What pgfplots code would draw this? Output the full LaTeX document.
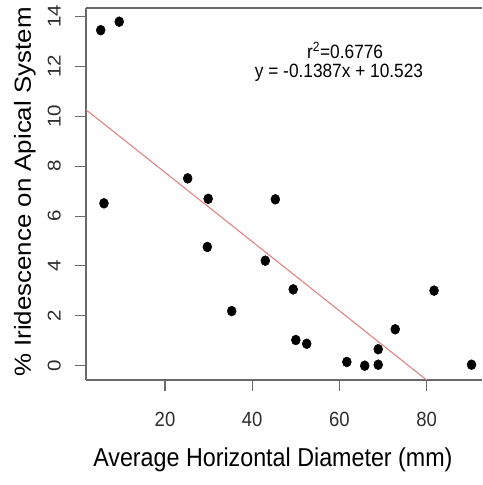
\documentclass[border=0pt]{standalone}
\usepackage{fontspec}
\setmainfont{Liberation Sans}
\usepackage{pgfplots}
\pgfplotsset{compat=1.18}

\definecolor{axisgray}{RGB}{105,105,105}
\definecolor{fitred}{RGB}{224,128,128}
\definecolor{labgray}{RGB}{45,45,45}

\begin{document}
\begin{tikzpicture}
	\begin{axis}[
	at={(64.5pt,78.75pt)}, anchor=south west,
	scale only axis,
	width=297pt, height=279pt,
	xmin=1.88, xmax=92.7,
	ymin=-0.573, ymax=14.34,
	xtick={20,40,60,80},
	ytick={0,2,4,6,8,10,12,14},
	axis x line*=box,
	axis y line*=left,
	axis line style={-, draw=axisgray, line width=0.8pt},
	tick pos=left,
	tick align=outside,
	major tick length=8pt,
	tick style={draw=axisgray, line width=0.8pt},
	/pgf/number format/assume math mode=true,
	xticklabel style={font=\fontsize{15.4}{18}\selectfont, text=labgray, anchor=base, yshift=-27pt, xscale=0.9},
	yticklabel style={font=\fontsize{15.4}{18}\selectfont, text=labgray, xshift=-11pt, rotate=90, anchor=base, yscale=0.9},
	xlabel={Average Horizontal Diameter (mm)},
	ylabel={\% Iridescence on Apical System},
	xlabel style={at={(axis description cs:0.472,-0.233)}, anchor=base, font=\fontsize{19.4}{23}\selectfont, xscale=0.9},
	ylabel style={at={(axis description cs:-0.139,0.505)}, anchor=base, font=\fontsize{19.4}{23}\selectfont, yscale=0.9},
	]
	% fitted line
	\addplot[color=fitred, line width=0.8pt] coordinates {
		(0,10.523)
		(85,-1.2665)
	};
	% observations
	\addplot[
	only marks,
	mark=*,
	mark size=3.7pt,
	mark options={fill=black, draw=black, xscale=0.9},
	]
	coordinates {
		(5.25,13.45)
		(9.5,13.79)
		(6.0,6.51)
		(25.2,7.51)
		(29.9,6.69)
		(45.3,6.67)
		(29.7,4.76)
		(35.3,2.19)
		(43.0,4.21)
		(49.4,3.06)
		(50.0,1.03)
		(52.5,0.88)
		(61.7,0.15)
		(65.8,0.0)
		(68.9,0.04)
		(68.9,0.66)
		(72.8,1.46)
		(81.7,3.01)
		(90.3,0.04)
	};
	\node[anchor=base, xscale=0.9, font=\fontsize{14.4}{17}\selectfont] at (axis cs:61.3,12.33) {r\textsuperscript{2}=0.6776};
	\node[anchor=base, xscale=0.9, font=\fontsize{14.4}{17}\selectfont] at (axis cs:59.9,11.57) {y = -0.1387x + 10.523};
	\end{axis}
	\pgfresetboundingbox
	\path[use as bounding box] (0,0) rectangle (361.5pt,363.75pt);
\end{tikzpicture}
\end{document}
